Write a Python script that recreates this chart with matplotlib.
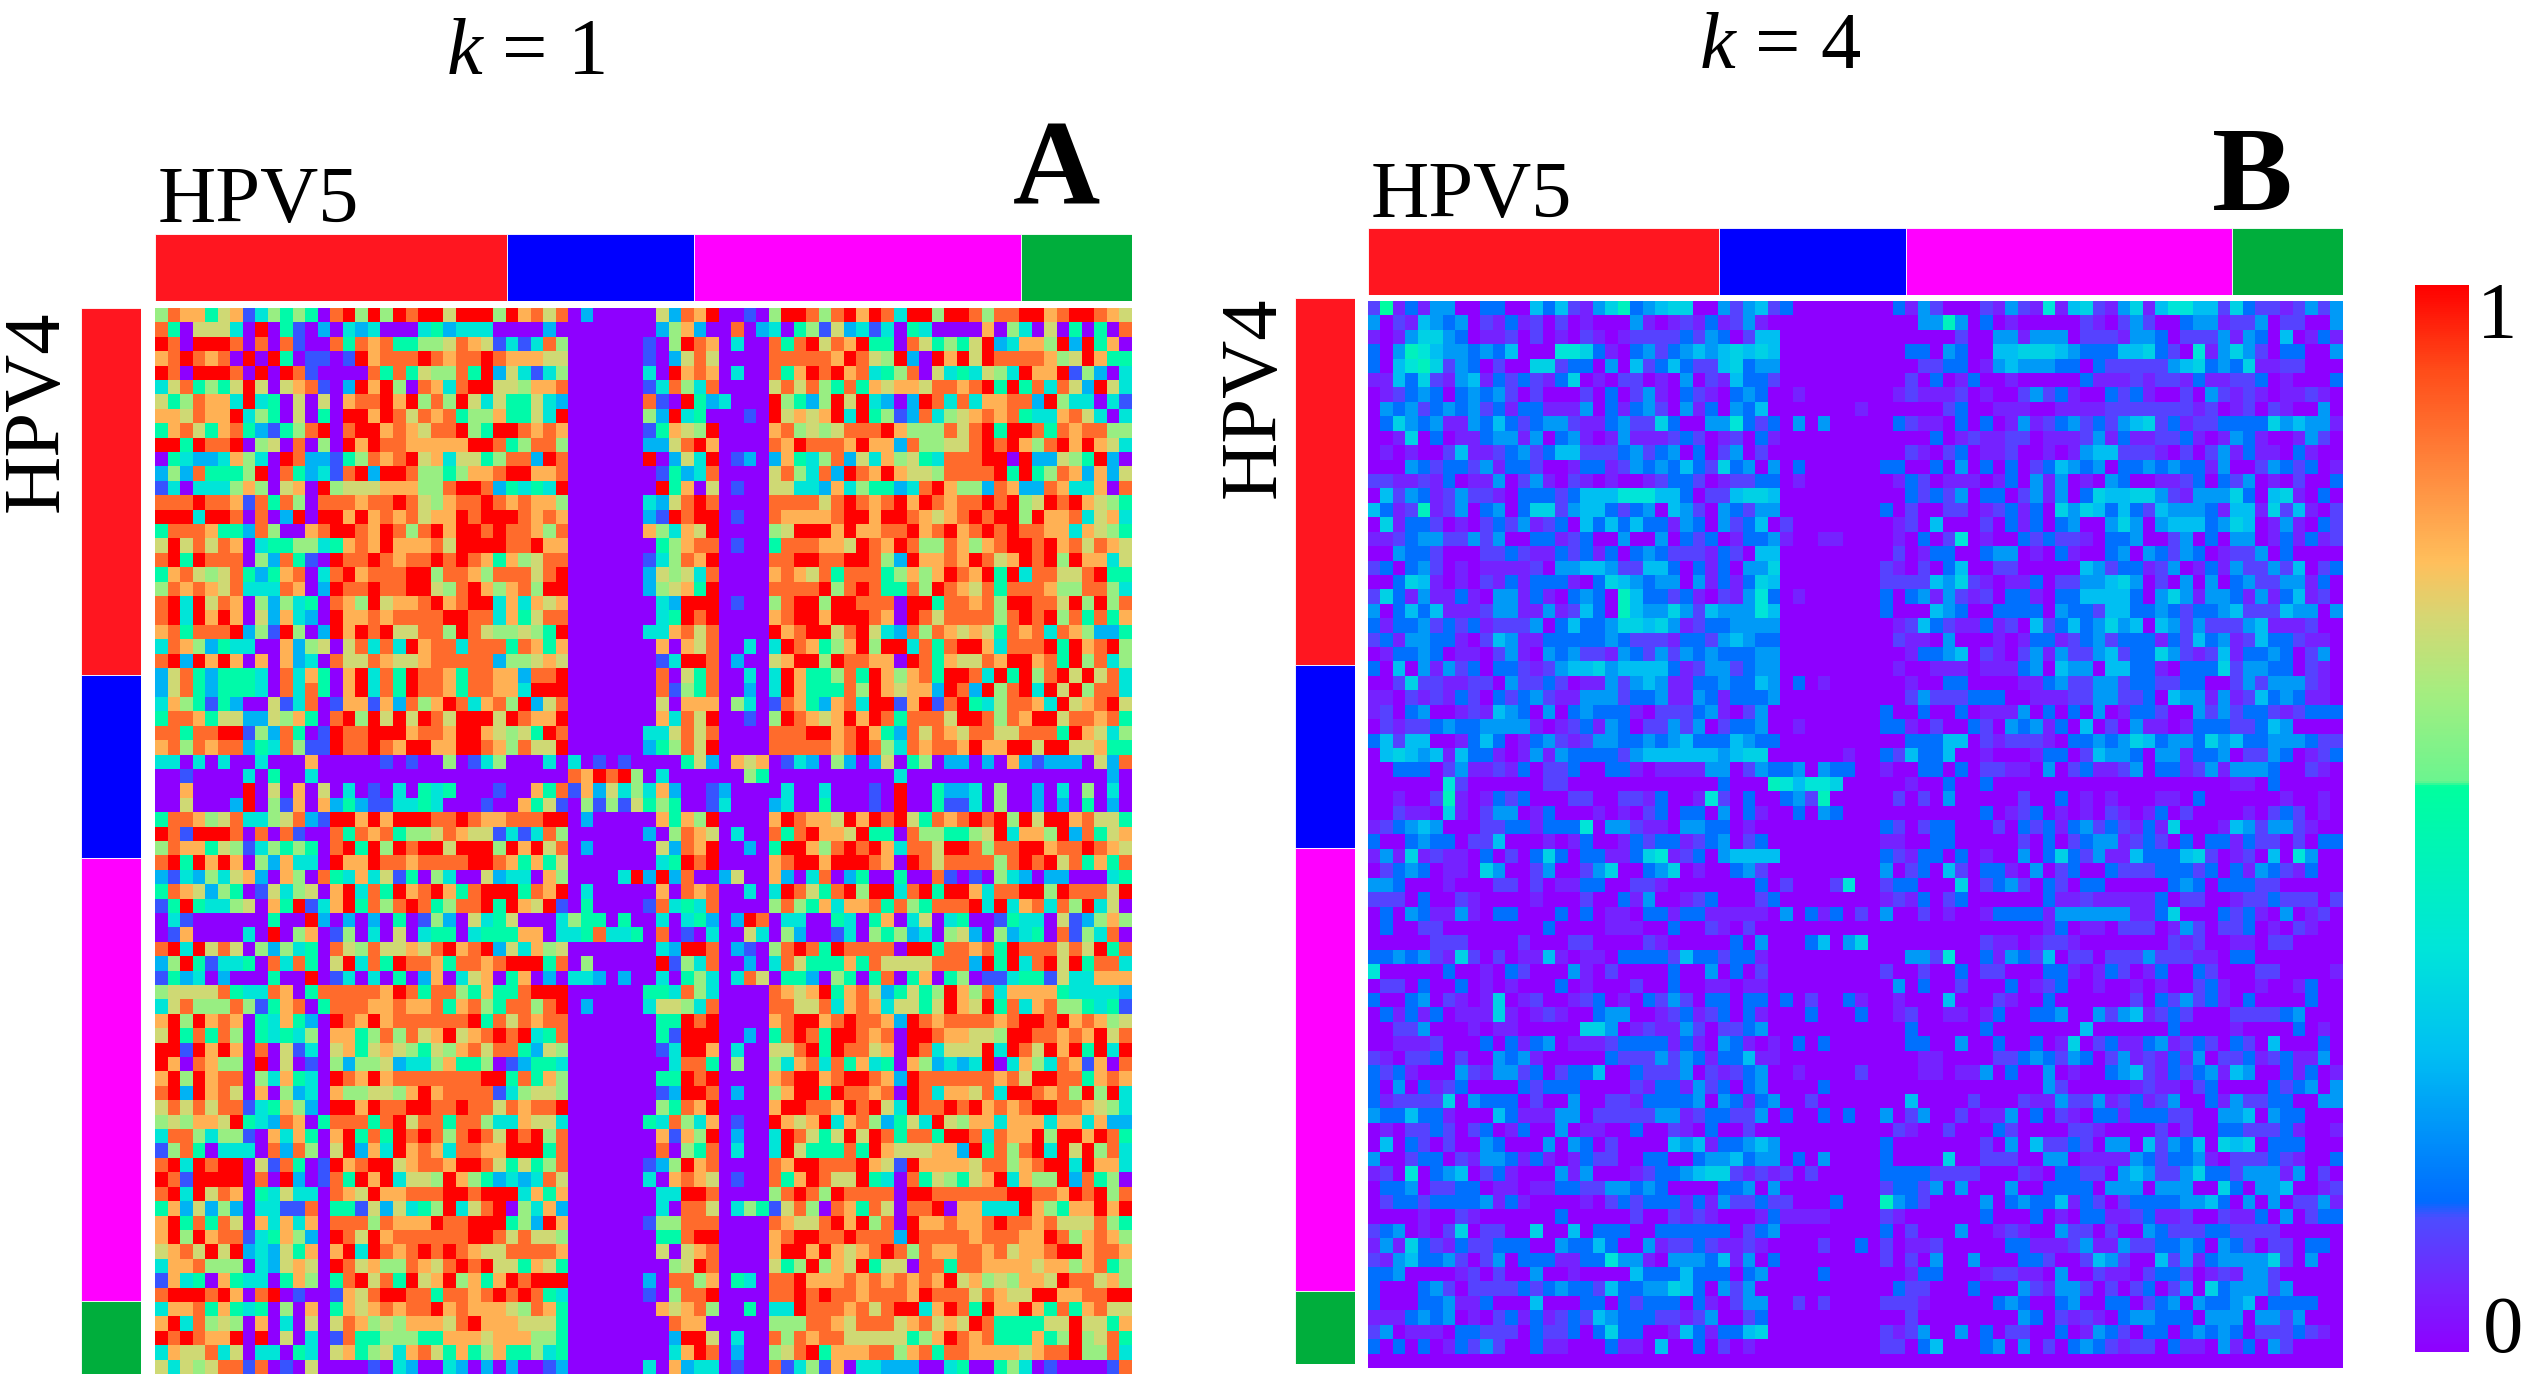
import numpy as np
import matplotlib
matplotlib.use('Agg')
import matplotlib.pyplot as plt
from matplotlib.colors import LinearSegmentedColormap, Normalize
from matplotlib.cm import ScalarMappable

plt.rcParams['font.family'] = ['Liberation Serif', 'DejaVu Serif']
plt.rcParams['mathtext.fontset'] = 'custom'
plt.rcParams['mathtext.it'] = 'Liberation Serif:italic'
plt.rcParams['mathtext.rm'] = 'Liberation Serif'

W, H = 2535, 1394

# values, one digit per cell, rows top to bottom
# groups in a row are just for reading: 33 + 6 + 6 + 4 + 29 cells
rows_a = [
"587746713545408959598996999597868 020000 062879 0010 59985897983995998588997899876",
"840666309041020323000342333000020 000000 025720 0802 30451623130430000705306040408",
"980999808081008487844556876131385 000000 105987 0300 84896879440864546923775929470",
"789878090940110197888987889877766 000000 102686 0000 88888798659209796988887569744",
"980999809098100008484655849263135 000000 309787 0300 84798978345806343653977915203",
"368454696067810297950873899665778 000000 138538 0000 68685484767768878949483862963",
"645877393406060788979585963644632 000000 810942 3000 95425969320298383778829533031",
"776877935406040997986878455744639 000000 529340 0010 96767939451283567878433786303",
"478647842145890899787688954998787 000000 147659 0000 78565688897555868949984878855",
"994988905608050979887777799845885 000000 226897 0000 87988879772855668989758979763",
"043223753098221458789673664588298 000000 902639 0120 27435826375643888990922654920",
"252844459084231892998554577899778 000000 014238 0000 68538298797665888894945872726",
"130333575067095666777558998243439 000000 094706 0100 66332735442389755287228733708",
"888988718485088878898657889878775 000000 326898 0000 88886898789798788989569897654",
"999399808029099797878677989998787 000000 219899 0100 87777899799876789899597783673",
"488874428500789987985897998988758 000000 753769 0000 56999797788978978989887737654",
"696868703445534787977786999988977 000000 045788 0100 48887769879855875789989786876",
"894988805284109889878898987475688 000000 135879 0000 88998899852977879867989597736",
"478656842478038978889958875888689 000000 265638 0000 78768488845757987949388668944",
"587876833387029889889965897578599 000000 256749 0000 88889589844859876848887558853",
"893968705253408759677897899373767 000000 032999 0100 58995998880994887859988695958",
"893979706273209778788889988374688 000000 034989 0000 78997999870986888858989584847",
"784888925195029798966885986556549 000000 337868 0000 97899689632858767648783875224",
"387524330072560683839788388848747 000000 070768 0030 39874579599384899738889497895",
"892979707072308668766788888255676 000000 013998 0200 67995988770984766879978495835",
"268424443083740793849887488772889 000000 080648 0030 39744584975784998394958969683",
"268424443083840793849887488773999 000000 081548 0020 39744485976772982958939695883",
"375414200613801771728579837859268 000000 060777 0530 18742783991791894358873967896",
"488746622657408959696986999698779 000000 073869 0010 59876797984888699858799688784",
"884889915284019889997887997656498 000000 336868 0000 88899789742868768866888497635",
"785878824385119889879977998758669 000000 245869 0000 88888789853878879779969966744",
"330303003000700000101005013500030 301010 000462 0767 01320520260450220207212220628",
"001000030400300000000000000000000 879895 030000 0054 00000000003000000000000000020",
"007000090607060301030434000100748 172635 372001 2000 03003000109004223050020305030",
"006000290517072421133430001007461 051516 454001 3000 23004000109004113050020204020",
"488756833568219979799988987788899 020000 074759 0000 79877697989648789895969978664",
"981999808081008487845568766131385 000000 205876 0300 84897769440855445693775928467",
"587746513545408949598996999597968 020000 062879 0020 49975898973886998588997889876",
"894979705273309779887888899874746 000000 034989 0000 78997999870986888858989684748",
"213253672075084373614053006233075 000039 292800 2600 72038024004008101053202200034",
"487625401635607938497897489994879 030000 070878 0030 39864895993894997388995988869",
"149433560749137948589845889497691 040000 183438 0000 58547377848548889393783859360",
"031000000400920202040152063460003 544040 030342 0298 03300430470360340014330612575",
"017000030905701503060344034447703 348334 080103 0063 05200130545230562052340815380",
"893968605253408658667689789263756 000000 032998 0210 58984988880994887849888686948",
"259413340838406938498874887899948 050000 091538 0020 38644474866668882949389694883",
"142302000400901303040270367047020 332020 030453 0386 04420540480470450113441633777",
"566668433870488888798488547448999 000000 443853 0000 87679478624645975837777433332",
"368555851478048887787784785488589 020000 366538 0000 88668378736646976948378554341",
"795978704374209879788888894868788 000000 044989 0000 78997898872987888878998978756",
"694848504343507745858679678989348 000000 041999 0020 48984998780998776659988787968",
"991979708061306746765465786884265 000000 013997 0300 66894988670983666939869794939",
"970875509060105255623357445012443 000000 003884 0500 53783847340752323903753871708",
"795978805374309879788888889948475 000000 044989 0000 78997899872988888878699884787",
"892978607052307556657978888135665 000000 012998 0200 57994988780983776839987859593",
"686868813475209979889988988687889 000000 054879 0000 79988798963988989787899887653",
"565776943287048884896884885337663 000000 438537 0100 97679378524639657737773773722",
"388535510737407948498985898698958 000000 071759 0200 39864696984884998387795997984",
"158403330828506927397873887799948 000000 080548 0300 39644484976667729485893969583",
"893989906184019789967887998646458 000000 125978 0000 87998889761977776885789939773",
"981999908092018497936659754232386 000000 307876 0100 84798669430846546793755928450",
"893968704363308769778889989993747 000000 033998 0000 58985988880998888889988798958",
"472625203311804416263459368905372 000000 030886 0354 16850874860889077333975477979",
"794848607373708885877798899945297 000000 155888 0000 87668979580977877898878666854",
"795978813475209869788888899868665 000000 044899 0000 78998898882988887888779857875",
"678696923264707939878989876688887 000000 060678 0000 79979767898587788786778997887",
"377855503267609867558768989664764 000000 005698 0000 64595769466088488777767757845",
"173407433047504896849679574798999 000000 208857 0430 88977787878787967565776988675",
"899989708901001768998848878989843 000000 105889 0000 88989887888798886876699778899",
"377847434050704767878897877765874 000000 076785 0040 33988878689937984977974847866",
"793856507030606875657776897776664 000000 008770 0000 55588768886786769844446696647",
"989877909060301844555447776777554 000000 002996 0300 85878866666457987844474595684",
"376683603304306745637864745744534 000000 003798 0200 56894777885784887777678895583",
"636568818010600001032003202020012 000000 307233 0100 81351703322200340045301000018",
]

# groups here: 33 + 8 + 8 + 29 cells
rows_b = [
"291314400330053521468345660042452 30000000 03142000 21421715621461577552632212424",
"402154340213120201000410121312410 00000000 00044840 30100000210242003441224022004",
"101466430112020102101222232430255 00000000 00000020 04414440222144302224143050131",
"304875443435000776310342345456565 00000000 00330430 05566654333556320714642033004",
"305786243020066233040523532256344 00000000 00022330 14544433032222245634361122000",
"115362145132321360102201040215332 00000000 00203013 00100000311121221311223010003",
"012343034342020002030241032103430 01000000 01211120 10024231003231002042121011210",
"043423434231331114031342041304350 00000010 00000230 01110011112222222120120210040",
"036434114353234421134226300447323 04040000 03211030 30141234232456231223333645441",
"001603011344140341014111232012031 00000000 00003012 11220111241311223101431001420",
"010100251123423552223423403024020 00000000 00210230 11200101455222102024131103100",
"000432332413320013312434353263404 03000000 33003040 30302354340334343314002432301",
"221121301140241021010012332012233 01000000 01320111 01304140104300112303240102003",
"052431242210333235557775530225665 00000000 00323240 33024140365566421444630561030",
"531281240340366245532340542043244 00000000 30200220 12313064653532544431551625102",
"061332010232412305353533143042350 20000000 01205000 20313034004640455534650141032",
"112344224240033123004004032301334 10011000 01030270 10032322103340024030440131312",
"004332000223211323130343222132055 00000000 02013300 34401031003404324301224030000",
"230342010111120445542255303130446 00000000 21020350 02200000542331240131422425023",
"003651010213133310365434404131365 00000000 22225462 10113022445640204040342244130",
"263141131044131034308533231021473 01000000 30341421 20331033555530464144314135120",
"403535111244114125308544642544475 00000000 30005430 03333043325533432334522254404",
"313342323122240353346656412334444 00000000 01253211 31205235346450542422245111200",
"231443310254113333343222133245433 00000000 02110400 01013312342333132534125332110",
]
rows_b += [
"013343011024104342214324243433344 00000000 00133450 21024142245233642125133430240",
"305041423033212455645555312442344 00000000 01001110 11134054405533103336244330210",
"002622112204223201142454113343354 03010000 00100330 00011342244233223300242444210",
"110212132032342114442334114313334 00000000 00242223 33001112244223054414125343110",
"120340012154304034333102223410240 00000000 30030030 11140303040133200424233212333",
"021223433444410123143022424023340 01000000 33102003 20434130502041101333223540000",
"352550013530134212443343453335433 00000000 00333550 21222103343465344364533444322",
"056545153310141433332455555545660 00000100 32533500 10001330254430441334022430123",
"003330241121302230033101111440243 34043300 10033030 22110402311240331241444300210",
"000000720000002200000000000030008 75776000 00100300 30000000000000000000110300000",
"001002810132300022002213001720300 34280000 02020400 00020030101000110300000010010",
"002110610244013000101023033040310 03043000 00000000 30123010102101302000010232010",
"123454000223313337044211044330100 00000000 32023300 02032313423213160001542442100",
"300343302250001013001323312340230 00000000 11003300 00020302344123203033132202033",
"141612110302036303311367123045555 00000000 32133030 10040363241153335620120507400",
"023430110640024002460034601003420 00000000 40230520 33104023003222333230314321300",
"443000100022020113300221000000030 20002700 23300060 23420320330000034303332200000",
"222030021000010002003140012300023 00000000 12130230 00000311211111302200122322202",
"030431141033000303011033133111110 40313020 40020100 13333144444411360003231040120",
"030022000000003000011100300210200 00000000 00000000 00000130110222014202230102100",
"000002220000200022000021000003040 00350460 00000000 21101221000000021200110220000",
"334342162020115101103333253323310 00000000 00442700 31432502202224222110330000000",
"700000300103200041020000300403020 00000000 20020030 22000331013201300320002200001",
"022030030101000301000200300110110 00000000 04030020 00301230010010100231001001300",
"300340210160120012301032420330330 30200310 01000500 02100300000020324231030000300",
]
rows_b += [
"031313011161012100344001231230310 00300030 01200110 13003340042451232000222234000",
"002240001011000006640121142022340 00000000 00300000 30000000500000030000100003010",
"001112000303134011123333131043101 03030000 00330040 03003016023113412320320500030",
"210223020043410000032224243133511 00000000 00011000 02234324302412131402231231140",
"323100042144230233500322240212340 01000020 00011011 40300401003452132341540031301",
"304031230000323330000213314230 340".replace(" ","") + " 00000000 00001000 00000000334223032034450300".replace(" ","")[:0] + " 00030000 00000000 00000420000012110230000323404",
"312222604333020040022133334043134 00200000 00500002 00021142241231240031422330044",
"433533100053111440222224412332240 30030300 40240020 11403021033133322004450433000",
"010223202301300401100300210300200 00000000 02100200 03200002210000202003322231001",
"050320200430004043020000545133454 00000000 30000000 20405223204405243506560333000",
"400233021443131013220033003445344 03040000 30000600 22200440111143233410222321003",
"120703450231000414000123345662121 20200000 33332222 00021033220454224633244414020",
"033402233011011332244343000033404 00000000 23324040 00400333304440444006304450012",
"023323333413100001023233313142232 20003000 84320000 40343351320233334453040402241",
"000010021000000300000200212100013 11110000 21000000 30003010331123112002113040233",
"234010260220060050333003333330234 00000000 30200040 01210042202004322233222200000",
"141632132233300433530041223211210 00020030 20112000 00331112411422334304320220330",
"214533420240333113374410444351403 00000000 20204004 00033200254200524134444620400",
"334000012020040010000533353330340 00030000 00133000 12211040021102332012144200000",
"300034202222323433253344653042400 00000000 03220003 00042144202023024063444240000",
"300033411300050003303233303102440 02020000 22210000 03430034003302340433450333300",
"111343401023131232543332212400230 00000000 00200000 00043021210344333044404424000",
"240111033222032230363300153133560 00000000 21240040 30220030143203303434302223210",
"303030132420031100031105003020100 00000000 22035000 34040203432122031104130420000",
]
rows_b = rows_b[:74]

levels_a = [0.0, 0.13, 0.26, 0.38, 0.5, 0.6, 0.68, 0.76, 0.87, 1.0]
levels_b = [0.0, 0.06, 0.11, 0.15, 0.22, 0.28, 0.33, 0.38, 0.45, 0.52]

groups_a = [33, 6, 6, 4, 29]
groups_b = [33, 8, 8, 29]
n_rows, n_cols = 74, 78

# colour groups, sizes in sequences
group_colors = ['#ff1620', '#0000ff', '#ff00ff', '#00ae3c']
hpv5_sizes = [28.1, 14.9, 26.1, 8.9]
hpv4_sizes = [25.5, 12.7, 30.7, 5.1]

cbar_nodes = [
    (0.0, (0.56, 0.0, 1.0)), (0.06, (0.46, 0.14, 1.0)), (0.125, (0.3, 0.3, 1.0)),
    (0.14, (0.0, 0.42, 1.0)), (0.28, (0.0, 0.75, 0.95)), (0.38, (0.0, 0.9, 0.85)),
    (0.53, (0.0, 1.0, 0.62)), (0.535, (0.42, 0.96, 0.56)), (0.62, (0.65, 0.93, 0.5)),
    (0.69, (0.84, 0.84, 0.45)), (0.74, (1.0, 0.75, 0.36)), (0.82, (1.0, 0.55, 0.25)),
    (0.92, (1.0, 0.3, 0.1)), (1.0, (1.0, 0.0, 0.0)),
]
cmap = LinearSegmentedColormap.from_list('hpv', cbar_nodes, N=512)
norm = Normalize(0, 1)


def to_matrix(rows, levels, groups):
    m = np.zeros((n_rows, n_cols))
    for i, r in enumerate(rows[:n_rows]):
        parts = r.split()
        cells = ''
        # a group that came out short gets the lowest step
        for part, size in zip(parts, groups):
            cells += part.ljust(size, '0')[:size]
        cells = cells.ljust(n_cols, '0')
        m[i] = [levels[int(c)] for c in cells]
    return m


def px_axes(fig, x0, y0, x1, y1):
    return fig.add_axes([x0 / W, 1 - y1 / H, (x1 - x0) / W, (y1 - y0) / H])


def label(fig, x, y, s, **kw):
    fig.text(x / W, 1 - y / H, s, **kw)


def panel(fig, matrix, box, topbar, sidebar, top_sizes, side_sizes):
    ax = px_axes(fig, *box)
    ax.imshow(matrix, cmap=cmap, norm=norm, aspect='auto', interpolation='nearest')
    ax.axis('off')

    ax = px_axes(fig, *topbar)
    left = 0
    for size, c in zip(top_sizes, group_colors):
        ax.barh(0, size, left=left, height=1, color=c, edgecolor='white', linewidth=0.6)
        left += size
    ax.set_xlim(0, sum(top_sizes))
    ax.set_ylim(-0.5, 0.5)
    ax.axis('off')

    ax = px_axes(fig, *sidebar)
    bottom = 0
    for size, c in zip(side_sizes, group_colors):
        ax.bar(0, size, bottom=bottom, width=1, color=c, edgecolor='white', linewidth=0.6)
        bottom += size
    ax.set_ylim(sum(side_sizes), 0)
    ax.set_xlim(-0.5, 0.5)
    ax.axis('off')


fig = plt.figure(figsize=(W / 100, H / 100), dpi=100, facecolor='white')

panel(fig, to_matrix(rows_a, levels_a, groups_a), (155, 308, 1132, 1374), (155, 234, 1132, 301),
      (81, 308, 141, 1374), hpv5_sizes, hpv4_sizes)
panel(fig, to_matrix(rows_b, levels_b, groups_b), (1368, 301, 2343, 1368), (1368, 228, 2343, 295),
      (1295, 298, 1355, 1364), hpv5_sizes, hpv4_sizes)

cax = px_axes(fig, 2415, 285, 2469, 1352)
cb = fig.colorbar(ScalarMappable(norm=norm, cmap=cmap), cax=cax)
cb.set_ticks([])
cb.outline.set_visible(False)

fs = 58
label(fig, 525, 74, r'$k$ = 1', fontsize=fs, ha='center', va='baseline')
label(fig, 1780, 68, r'$k$ = 4', fontsize=fs, ha='center', va='baseline')
label(fig, 158, 222, 'HPV5', fontsize=fs, ha='left', va='baseline')
label(fig, 1371, 217, 'HPV5', fontsize=fs, ha='left', va='baseline')
label(fig, 38, 411, 'HPV4', fontsize=fs, rotation=90, ha='center', va='center')
label(fig, 1255, 397, 'HPV4', fontsize=fs, rotation=90, ha='center', va='center')
label(fig, 1056, 203, 'A', fontsize=87, fontweight='bold', ha='center', va='baseline')
label(fig, 2252, 210, 'B', fontsize=87, fontweight='bold', ha='center', va='baseline')
label(fig, 2497, 338, '1', fontsize=fs, ha='center', va='baseline')
label(fig, 2503, 1352, '0', fontsize=fs, ha='center', va='baseline')

fig.savefig('out.png', dpi=100)
